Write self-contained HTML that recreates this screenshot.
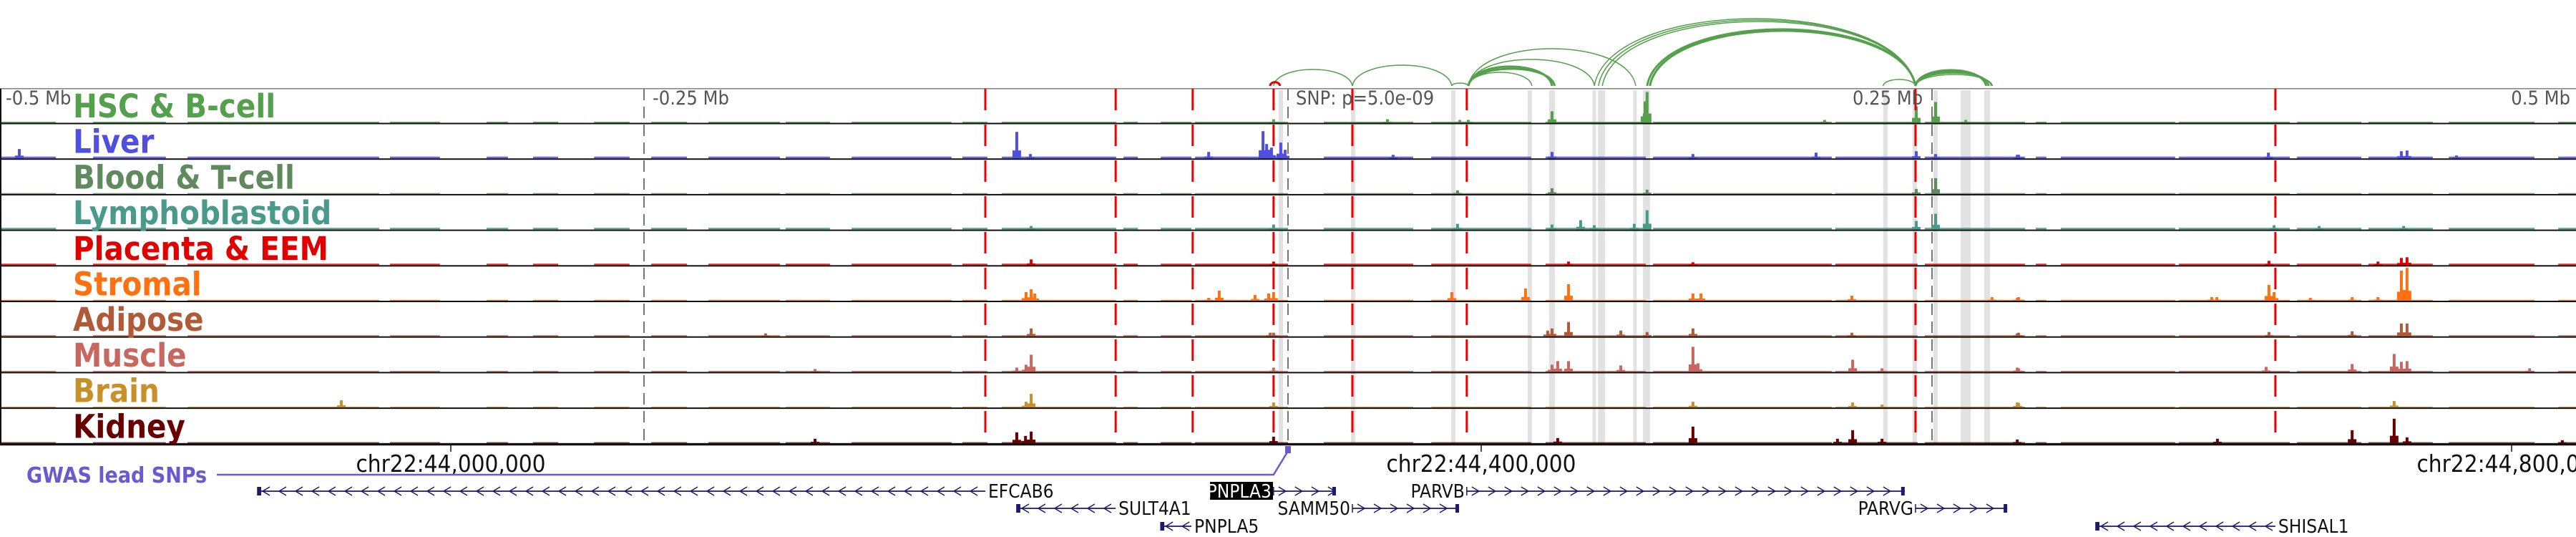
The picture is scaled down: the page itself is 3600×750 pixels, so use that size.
<!DOCTYPE html>
<html><head><meta charset="utf-8"><style>
html,body{margin:0;padding:0;background:#fff;}
svg{display:block;}
text{font-family:"DejaVu Sans Condensed","DejaVu Sans","Liberation Sans",sans-serif;}
</style></head><body>
<svg id="chart" width="3600" height="750" viewBox="0 0 3600 750" xmlns="http://www.w3.org/2000/svg">
<g id="bands"></g>
<g id="tracks"></g>
<g id="vlines"></g>
<g id="arcs"></g>
<g id="labels"></g>
<g id="axis"></g>
<g id="genes"></g>
</svg>
<script>
// positions in kb relative to chr22:44,000,000
const trackNames = ["HSC & B-cell","Liver","Blood & T-cell","Lymphoblastoid","Placenta & EEM","Stromal","Adipose","Muscle","Brain","Kidney"];
const trackColors = ["#55a04c","#4f4fe0","#5e8a5e","#4a9a8a","#e00000","#ff7010","#b05a38","#c86660","#c89028","#680000"];
const bgLevels = [1.5,2.5,1.2,2.5,2,1.2,1.5,1.5,1.2,1.2];
const coverage = [[-175,-153.3],[-138.9,-110.6],[-102.2,-27.8],[-23.6,-4.2],[13.9,22.2],[31.9,41.7],[55.6,69.4],[77.8,91.7],[100,127.8],[130,147.2],[155.6,194.4],[198.6,208.3],[213.9,258.3],[261.1,266.7],[275.6,287.5],[288.9,325],[338.9,373.6],[380.6,419.4],[425,463.9],[466.7,536.1],[537.5,569.4],[572.2,611.1],[615.3,619.4],[625,669.4],[670.8,713.9],[716.7,741.7],[744.4,769.4],[775.6,808.9],[818.1,825]];
const hscPeaks = [[464.4,43],[463.6,30],[576.4,29],[568.9,23],[427.5,16],[363.6,5],[319.4,5],[395,4],[391.7,4],[533.3,4],[588.1,4]];
const liverPeaks = [[-167.5,13],[219.7,37],[225,6],[294.2,9],[315.3,38],[316.7,20],[317.5,12],[318.6,15],[322.2,22],[323.9,12],[427.5,9],[530,8],[568.9,10],[576.4,6],[608.6,5],[482.2,6],[365.8,5],[705.6,8],[757.2,10],[759.4,11],[608.1,5],[778.6,4]];
const bloodPeaks = [[576.4,22],[427.5,8],[464.4,6],[390.8,5],[568.9,7]];
const lymphPeaks = [[464.4,27],[576.4,22],[438.6,13],[443.9,6],[390.8,8],[568.9,12],[459.4,8],[427.5,7],[319.4,7],[225.3,5],[707.8,6],[758.1,5],[725.3,5]];
const placentaPeaks = [[225.3,8],[757.2,10],[759.4,11],[705.8,6],[748.1,5],[433.9,5],[482.2,4],[319.4,5]];
const stromalPeaks = [[433.9,23],[417.2,17],[388.6,12],[482.2,10],[485.3,10],[543.9,7],[598.3,5],[608.6,5],[298.3,14],[312.2,8],[317.5,10],[319.4,12],[223.3,12],[225.3,16],[226.7,10],[294.2,4],[757.2,42],[759.4,46],[758.3,15],[705.8,22],[707.8,12],[683.6,5],[685.6,5],[738.1,5],[748.1,5],[608.1,4],[721.9,4]];
const adiposePeaks = [[433.9,20],[427.5,11],[425.8,8],[482.2,11],[454.2,8],[464.4,6],[543.9,5],[608.6,5],[319.4,5],[225.3,11],[122.2,4],[318.1,5],[757.2,18],[759.4,18],[705.8,6],[738.1,7],[608.1,4]];
const musclePeaks = [[482.2,35],[484.2,12],[544.2,17],[429.7,15],[427.5,10],[433.9,15],[454.2,9],[608.6,5],[555.6,5],[319.4,6],[225.3,24],[223.3,10],[219.7,6],[141.4,4],[754.4,25],[757.2,14],[759.4,15],[738.1,11],[704.7,7],[807,5],[608.1,6]];
const brainPeaks = [[482.2,8],[544.2,7],[608.6,6],[555.6,4],[319.4,7],[225.3,19],[223.3,8],[-42.5,10],[754.4,9],[608.1,7]];
const kidneyPeaks = [[482.2,23],[544.2,18],[538.3,6],[555.6,6],[429.7,7],[319.4,9],[219.7,15],[223.1,10],[225.3,16],[141.4,6],[754.4,34],[738.1,18],[759.4,8],[685.8,6],[608.1,5],[819.7,4]];
const allPeaks = [hscPeaks,liverPeaks,bloodPeaks,lymphPeaks,placentaPeaks,stromalPeaks,adiposePeaks,musclePeaks,brainPeaks,kidneyPeaks];
const bandPos = [322.2,350.3,389.2,418.9,427.5,443.9,446.7,459.7,464.2,556.9,568.3,576.4,588.1,596.4];
const bandWidths = [1.7,1.7,1.7,1.7,2.2,1.4,2.8,1.4,2.8,1.7,1.7,1.7,3.9,2.2];
const redLines = [207.5,258.1,288,319.4,350,394.4,568.6,708.3];
const rulerPos = [75,325,575];
const arcStart = [319.4,350,388.6,395,395,395,395,395,443.9,445.5,447,464.4,465.5,556,568.6,568.6,568.6,568.6];
const arcEnd   = [350,388.6,395,419.7,427.5,428.5,444,460,568.6,568.6,568.6,568.6,568.6,568.6,596,597,598,598.5];
const arcHeight= [23,29,4,19,27,24,37,52,94,92,90,79,77,9,22,20,18,16];
const arcThick = [1.5,1.5,1.5,1.5,3,3,1.5,1.5,1.5,1.5,1.5,3,3,1.5,3,3,1.5,1.5];
const axisTicks = [0,400,800];
const axisLabels = ["chr22:44,000,000","chr22:44,400,000","chr22:44,800,000"];
const geneNames = ["EFCAB6","SULT4A1","PNPLA5","PNPLA3","SAMM50","PARVB","PARVG","SHISAL1"];
const geneStart = [-75,219.7,275.6,319.4,350,394.4,568.6,638.6];
const geneEnd   = [207.5,258.1,287.5,343.6,391.4,564.4,604.2,708.3];
const geneRow   = [0,1,2,0,1,0,1,2];
const geneStrand= [-1,-1,-1,1,1,1,1,-1];

const NS="http://www.w3.org/2000/svg";
const X = k => 630 + k*3.6;
const T0 = 124, TH = 49.7;
function mk(tag, attrs, parent){const e=document.createElementNS(NS,tag);for(const k in attrs)e.setAttribute(k,attrs[k]);parent.appendChild(e);return e;}
const gB=document.getElementById('bands'),gT=document.getElementById('tracks'),gV=document.getElementById('vlines'),gA=document.getElementById('arcs'),gL=document.getElementById('labels'),gX=document.getElementById('axis'),gG=document.getElementById('genes');

bandPos.forEach((p,i)=>{const r=mk('rect',{x:X(p)-bandWidths[i]*1.8,y:T0+2,width:bandWidths[i]*3.6,height:621-T0-2,fill:'#e2e2e2'},gB);

});

trackNames.forEach((n,i)=>{
  const top=T0+i*TH, base=top+47.5;
  const g=mk('g',{},gT);
  
  
  coverage.forEach(s=>{const r=mk('rect',{x:X(s[0]),y:base-bgLevels[i],width:X(s[1])-X(s[0]),height:bgLevels[i],fill:trackColors[i],'fill-opacity':0.85},g);
    
    });
  allPeaks[i].forEach(pk=>{const r=mk('rect',{x:X(pk[0])-2,y:base-pk[1],width:4,height:pk[1],fill:trackColors[i]},g);
    
    
    const r2=mk('rect',{x:X(pk[0])-6,y:base-pk[1]*0.3,width:12,height:pk[1]*0.3,fill:trackColors[i]},g);
    
    });
  const l=mk('rect',{x:0,y:base,width:3600,height:2,fill:'#111'},g);
  
  
  const t=mk('text',{x:102,y:top+40,'font-size':45,'font-weight':'bold',fill:trackColors[i]},gL);
  t.textContent=n;
  
  
});
const frame=mk('rect',{x:0,y:T0-1,width:3600,height:1.6,fill:'#888'},gT);


const lb=mk('rect',{x:0,y:T0,width:2,height:498,fill:'#111'},gT);



rulerPos.forEach(p=>{const l=mk('line',{x1:X(p),x2:X(p),y1:T0,y2:621,stroke:'#777','stroke-width':2,'stroke-dasharray':'16 9'},gV);

});
redLines.forEach(p=>{const l=mk('line',{x1:X(p),x2:X(p),y1:T0,y2:621,stroke:'#ee0000','stroke-width':3,'stroke-dasharray':'30 20'},gV);

});
const rulerText=[["-0.5 Mb",8,'start'],["-0.25 Mb",912,'start'],["SNP: p=5.0e-09",1811,'start'],["0.25 Mb",2589,'start'],["0.5 Mb",3592,'end']];
rulerText.forEach(r=>{const t=mk('text',{x:r[1],y:146,'font-size':27,fill:'#555','text-anchor':r[2]},gL);t.textContent=r[0];

});

const AY=120;
arcStart.forEach((s,i)=>{const x1=X(s),x2=X(arcEnd[i]),h=arcHeight[i]*4/3,d=(x2-x1)*0.05;
const p=mk('path',{d:`M${x1},${AY} C${x1+d},${AY-h} ${x2-d},${AY-h} ${x2},${AY}`,fill:'none',stroke:'#55a04c','stroke-width':arcThick[i]},gA);

});
const ra=mk('path',{d:`M${X(319.4)-5},${AY} C${X(319.4)-4},${AY-7} ${X(319.4)+8},${AY-7} ${X(319.4)+9},${AY}`,fill:'none',stroke:'#e00000','stroke-width':3},gA);



const ax=mk('rect',{x:0,y:620,width:3600,height:2.2,fill:'#111'},gX);


axisTicks.forEach((k,i)=>{const l=mk('line',{x1:X(k),x2:X(k),y1:621,y2:631,stroke:'#111','stroke-width':1.5},gX);


const t=mk('text',{x:X(k),y:659,'font-size':33,fill:'#111','text-anchor':'middle'},gX);t.textContent=axisLabels[i];

});

const gw=mk('text',{x:37,y:674,'font-size':30,'font-weight':'bold',fill:'#6a5acd'},gX);gw.textContent='GWAS lead SNPs';


const gp=mk('path',{d:`M303,663 L${X(319.4)},663 L${X(325)},630`,fill:'none',stroke:'#6a5acd','stroke-width':2.5},gX);


const gm=mk('rect',{x:X(325)-4,y:623,width:8,height:10,fill:'#6a5acd'},gX);



const rowY=[686,710,735];
geneNames.forEach((n,i)=>{
  const g=mk('g',{},gG);
  
  
  const x1=X(geneStart[i]),x2=X(geneEnd[i]),y=rowY[geneRow[i]],c='#1a1a6e';
  mk('line',{x1:x1,x2:x2,y1:y,y2:y,stroke:c,'stroke-width':1.8},g);
  mk('line',{x1:x1,x2:x1,y1:y-6,y2:y+6,stroke:c,'stroke-width':1.5},g);
  mk('rect',{x:geneStrand[i]>0?x2-5:x1,y:y-6,width:5,height:12,fill:c},g);
  for(let x=x1+12;x<x2-6;x+=23){
    const s=geneStrand[i]*5;
    mk('path',{d:`M${x-s},${y-6} L${x+s},${y} L${x-s},${y+6}`,fill:'none',stroke:c,'stroke-width':1.5},g);
  }
  let lx, anchor;
  if(geneStrand[i]<0){lx=x2+4;anchor='start';}else{lx=x1-3;anchor='end';}
  if(n==='PNPLA3'){mk('rect',{x:1691,y:673,width:88,height:25,fill:'#000'},g);}
  const t=mk('text',{x:lx,y:y+9,'font-size':26,fill:n==='PNPLA3'?'#fff':'#111','text-anchor':anchor},g);
  t.textContent=n;
  
  
});
</script>
</body></html>
